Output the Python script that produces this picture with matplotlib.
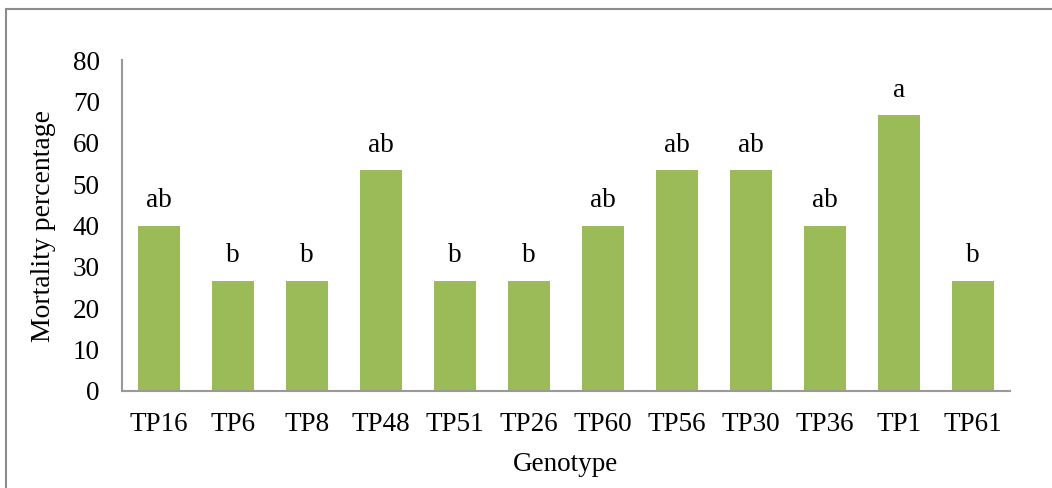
import matplotlib.pyplot as plt
from matplotlib.lines import Line2D

# Mortality data per genotype
genotypes = ['TP16', 'TP6', 'TP8', 'TP48', 'TP51', 'TP26', 'TP60', 'TP56', 'TP30', 'TP36', 'TP1', 'TP61']
mortality = [40, 26.67, 26.67, 53.33, 26.67, 26.67, 40, 53.33, 53.33, 40, 66.67, 26.67]
groups = ['ab', 'b', 'b', 'ab', 'b', 'b', 'ab', 'ab', 'ab', 'ab', 'a', 'b']

plt.rcParams['font.family'] = ['Liberation Serif', 'DejaVu Serif']
fs = 19.5

fig = plt.figure(figsize=(10.52, 4.88), dpi=100)
ax = fig.add_axes([122 / 1052, 1 - 391 / 488, 888 / 1052, 331 / 488])

x = range(len(genotypes))
ax.bar(x, mortality, width=0.57, color='#9BBB59')

# significance letters above bars
for xi, v, g in zip(x, mortality, groups):
    ax.annotate(g, (xi, v), xytext=(0, 9), textcoords='offset points',
                ha='center', va='bottom', fontsize=fs)

ax.set_xlim(-0.5, len(genotypes) - 0.5)
ax.set_ylim(0, 80)
ax.set_yticks(range(0, 81, 10))
ax.set_xticks(list(x))
ax.set_xticklabels(genotypes)
ax.tick_params(axis='both', length=0, labelsize=fs)
ax.tick_params(axis='y', pad=16)
ax.tick_params(axis='x', pad=15)

for s in ['top', 'right']:
    ax.spines[s].set_visible(False)
for s in ['left', 'bottom']:
    ax.spines[s].set_color('#999999')
    ax.spines[s].set_linewidth(1.5)

ax.set_xlabel('Genotype', fontsize=fs, labelpad=11)
ax.set_ylabel('Mortality percentage', fontsize=20, labelpad=12)

# outer chart border (top and left visible in the crop)
fig.add_artist(Line2D([6 / 1052, 1.0], [1 - 9 / 488, 1 - 9 / 488], transform=fig.transFigure,
                      color='#8c8c8c', lw=1.5))
fig.add_artist(Line2D([6 / 1052, 6 / 1052], [0.0, 1 - 9 / 488], transform=fig.transFigure,
                      color='#8c8c8c', lw=1.5))

fig.savefig('out.png', dpi=100)
